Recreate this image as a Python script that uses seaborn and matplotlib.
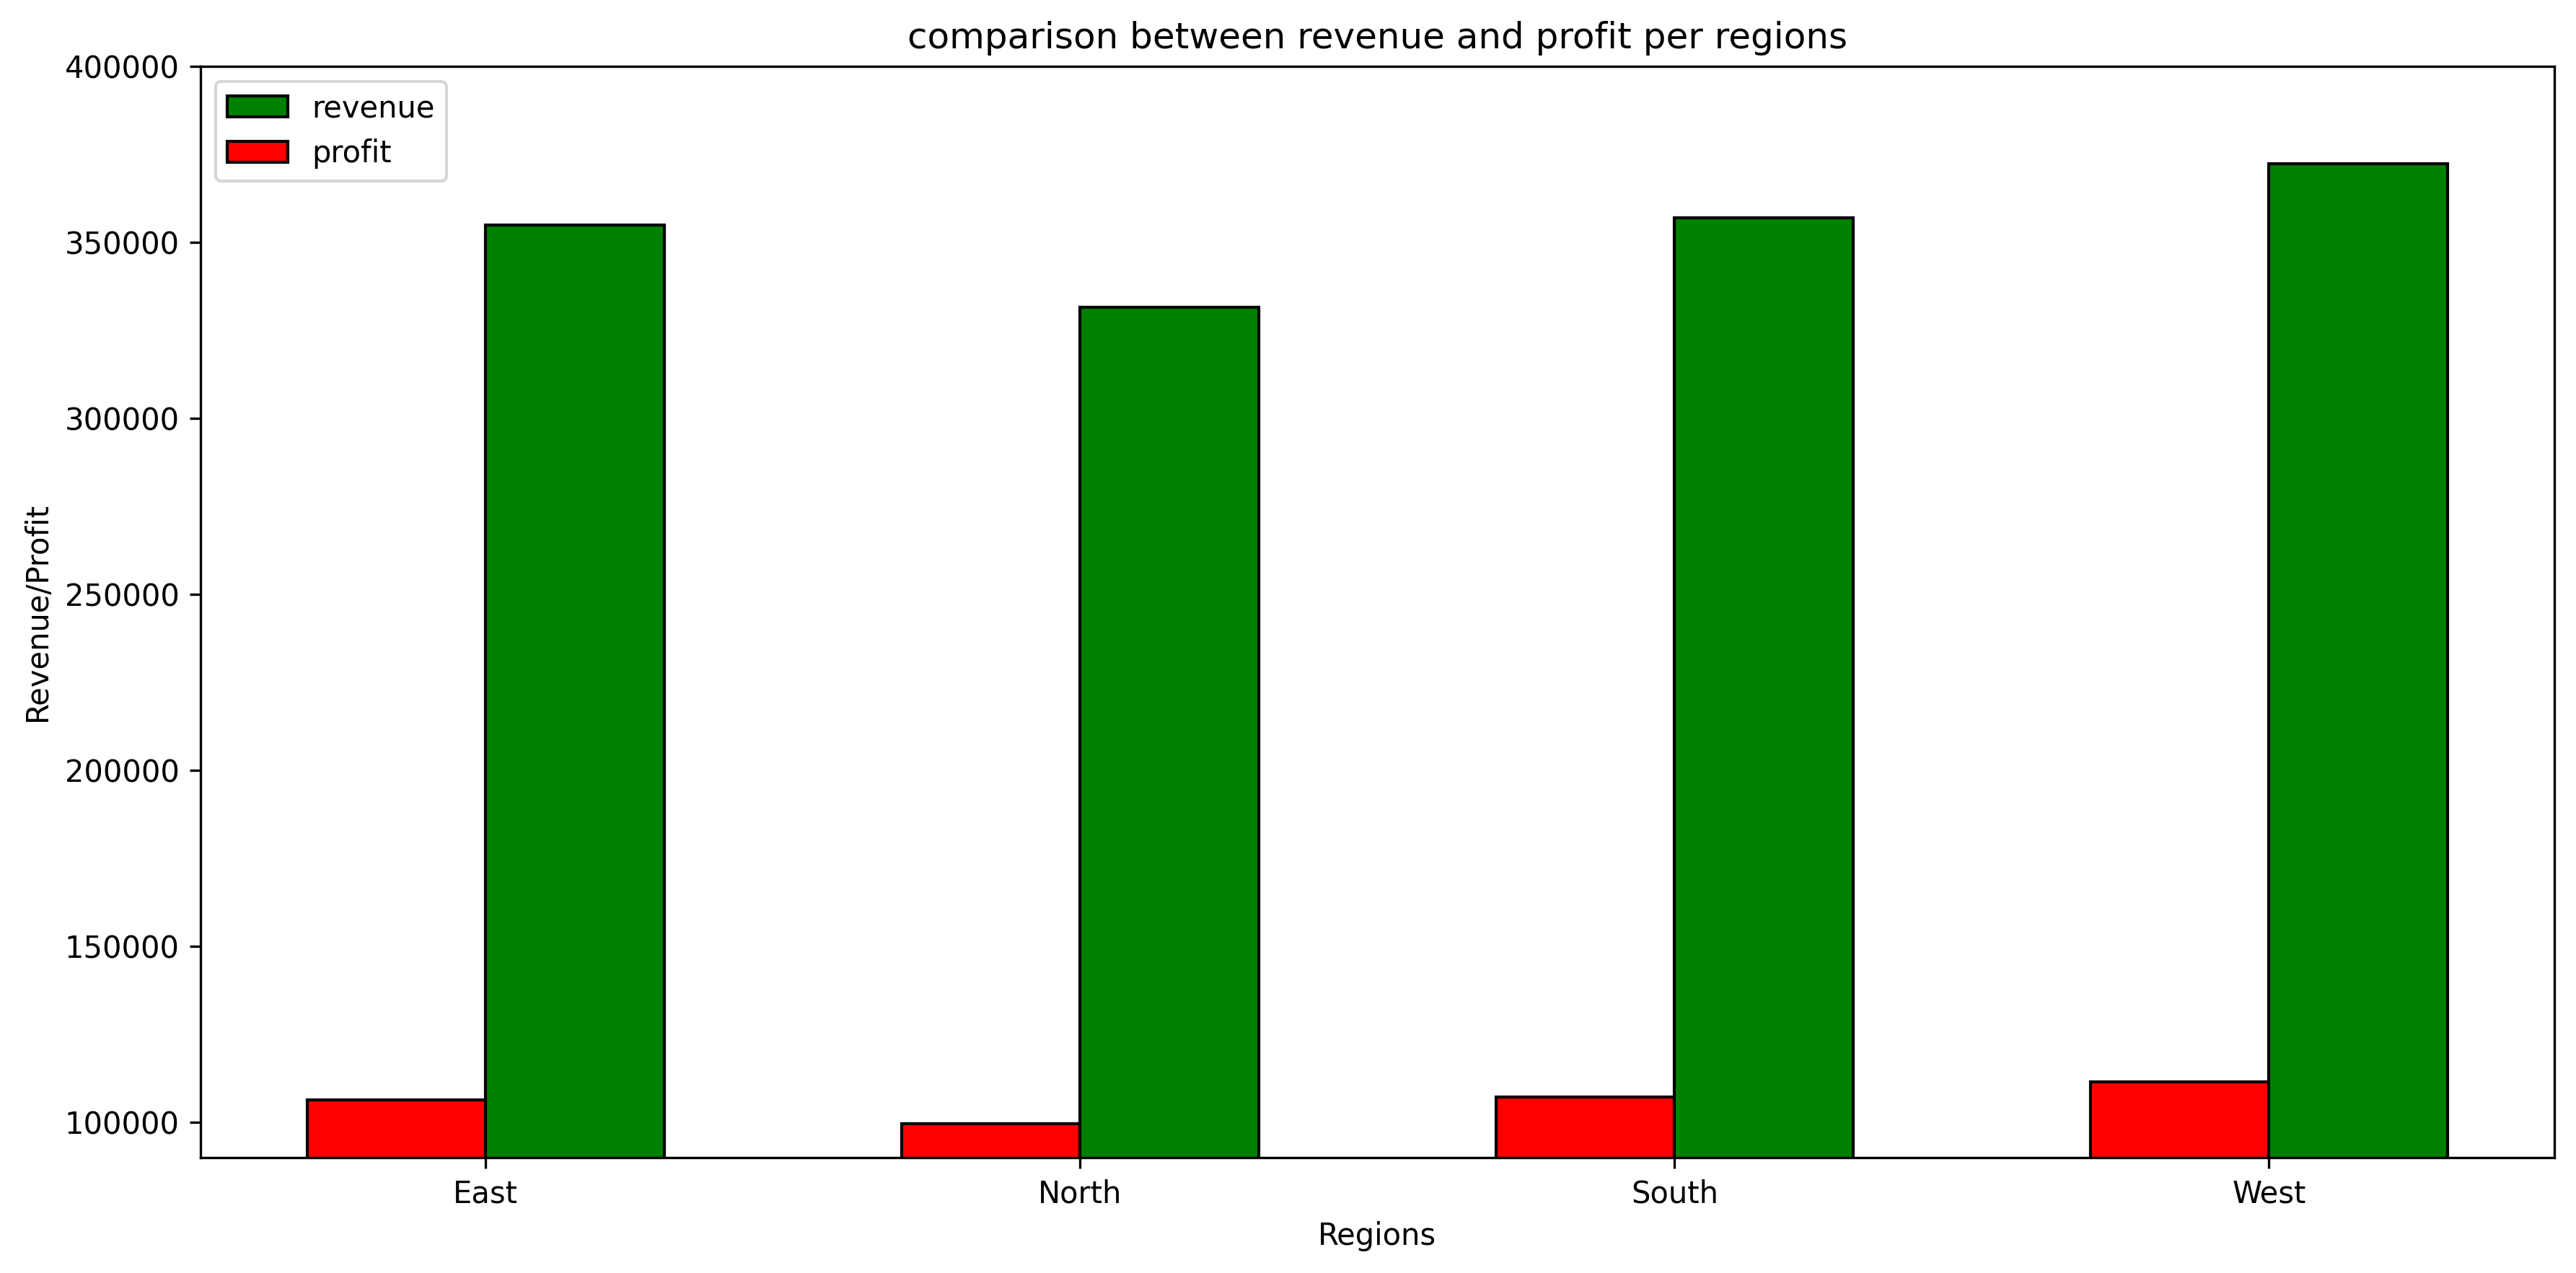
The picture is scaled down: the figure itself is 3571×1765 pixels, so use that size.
import matplotlib
matplotlib.use("Agg")
import matplotlib.pyplot as plt
import seaborn as sns
import pandas as pd

regions = ["East", "North", "South", "West"]
revenue = [355000, 331600, 357000, 372400]
profit = [106350, 99530, 107170, 111500]

df = pd.DataFrame({
    "Regions": regions * 2,
    "metric": ["profit"] * 4 + ["revenue"] * 4,
    "value": profit + revenue,
})

fig = plt.figure(figsize=(3571 / 300, 1765 / 300), dpi=300)
ax = fig.add_axes([0.0778, 0.0907, 0.9916 - 0.0778, 0.9479 - 0.0907])

sns.barplot(data=df, x="Regions", y="value", hue="metric",
            hue_order=["profit", "revenue"],
            palette={"profit": "red", "revenue": "green"},
            width=0.6, edgecolor="black", linewidth=1, saturation=1,
            errorbar=None, ax=ax)

ax.set_ylim(90000, 400000)
ax.set_xlim(-0.48, 3.48)
ax.set_title("comparison between revenue and profit per regions", fontsize=12)
ax.set_xlabel("Regions", fontsize=10)
ax.set_ylabel("Revenue/Profit", fontsize=10)
ax.ticklabel_format(axis="y", style="plain", useOffset=False)

handles, labels = ax.get_legend_handles_labels()
order = [labels.index("revenue"), labels.index("profit")]
ax.legend([handles[i] for i in order], [labels[i] for i in order],
          loc="upper left", title=None)

fig.savefig("out.png", dpi=300)
